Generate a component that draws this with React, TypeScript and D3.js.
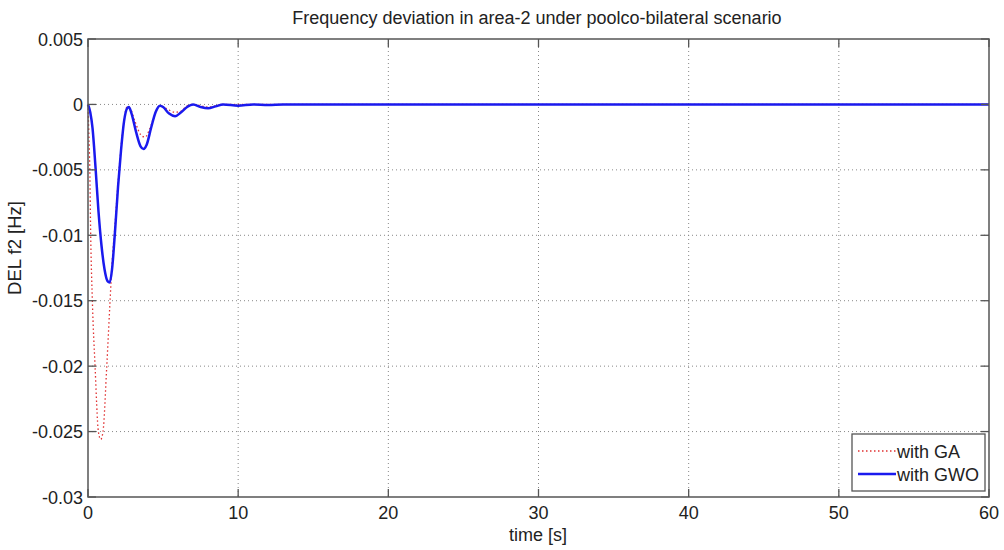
import React from "react";
import * as d3 from "d3";

const xTicks = [0, 10, 20, 30, 40, 50, 60];
const yTicks = [0.005, 0, -0.005, -0.01, -0.015, -0.02, -0.025, -0.03];
const yTickLabels = ["0.005", "0", "-0.005", "-0.01", "-0.015", "-0.02", "-0.025", "-0.03"];

const gaTime = [0, 0.05, 0.12, 0.18, 0.29, 0.47, 0.69, 0.85, 1.0, 1.25, 1.47, 1.6, 1.8, 2.0, 2.2, 2.4, 2.6, 2.8, 3.1, 3.5, 3.8, 4.1, 4.5, 4.8, 5.2, 5.8, 6.2, 6.6, 7.0, 8.0, 9.0, 60];
const gaValues = [0, -0.002, -0.005, -0.01, -0.015, -0.02, -0.025, -0.0256, -0.025, -0.02, -0.015, -0.0122, -0.0092, -0.006, -0.0033, -0.0012, -0.0002, -0.0003, -0.0012, -0.0023, -0.0025, -0.0019, -0.0006, -0.0001, -0.0003, -0.0006, -0.0005, -0.0001, 0, -0.0002, 0, 0];

const gwoTime = [0, 0.15, 0.3, 0.5, 0.7, 0.9, 1.1, 1.3, 1.45, 1.6, 1.8, 2.0, 2.2, 2.4, 2.6, 2.72, 2.9, 3.2, 3.5, 3.7, 3.9, 4.2, 4.5, 4.8, 5.0, 5.4, 5.8, 6.2, 6.6, 7.0, 7.5, 8.0, 8.5, 9.0, 10, 11, 12, 13, 60];
const gwoValues = [0, -0.0006, -0.0018, -0.0048, -0.0082, -0.0108, -0.0126, -0.0135, -0.0136, -0.0126, -0.0097, -0.0063, -0.0035, -0.0013, -0.0003, -0.0002, -0.0007, -0.0021, -0.0032, -0.0034, -0.0031, -0.0018, -0.0006, -0.0001, -0.0002, -0.0007, -0.0009, -0.0006, -0.0002, 0, -0.0002, -0.0003, -0.00015, 0, -0.0001, 0, -0.00005, 0, 0];

const left = 88, right = 989, top = 39, bottom = 497;

export default function App() {
  const x = d3.scaleLinear().domain([0, 60]).range([left, right]);
  const y = d3.scaleLinear().domain([-0.03, 0.005]).range([bottom, top]);
  const line = d3
    .line<[number, number]>()
    .x((d) => x(d[0]))
    .y((d) => y(d[1]))
    .curve(d3.curveMonotoneX);
  const gaPath = line(gaTime.map((t, i) => [t, gaValues[i]]) as [number, number][]) || "";
  const gwoPath = line(gwoTime.map((t, i) => [t, gwoValues[i]]) as [number, number][]) || "";
  const axisColor = "#555";
  const font = "Arial, 'Liberation Sans', sans-serif";

  return (
    <svg width={1004} height={550} style={{ position: "absolute", left: 0, top: 0, background: "#fff" }} fontFamily={font}>
      <rect x={0} y={0} width={1004} height={550} fill="#fff" />
      <text x={537} y={24} textAnchor="middle" fontSize={18} fill="#222">
        Frequency deviation in area-2 under poolco-bilateral scenario
      </text>
      {/* grid */}
      {xTicks.slice(1, -1).map((t) => (
        <line key={"gx" + t} x1={x(t)} x2={x(t)} y1={top} y2={bottom} stroke="#888" strokeWidth={1} strokeDasharray="1,3" />
      ))}
      {yTicks.slice(1, -1).map((t) => (
        <line key={"gy" + t} x1={left} x2={right} y1={y(t)} y2={y(t)} stroke="#888" strokeWidth={1} strokeDasharray="1,3" />
      ))}
      {/* lines */}
      <path d={gaPath} fill="none" stroke="#e03030" strokeWidth={1.3} strokeDasharray="1.5,2.5" />
      <path d={gwoPath} fill="none" stroke="#1a1aee" strokeWidth={2.5} />
      {/* axes box */}
      <rect x={left} y={top} width={right - left} height={bottom - top} fill="none" stroke={axisColor} strokeWidth={1.5} />
      {xTicks.map((t) => (
        <g key={"xt" + t}>
          <line x1={x(t)} x2={x(t)} y1={bottom} y2={bottom - 8} stroke={axisColor} strokeWidth={1.3} />
          <line x1={x(t)} x2={x(t)} y1={top} y2={top + 8} stroke={axisColor} strokeWidth={1.3} />
          <text x={x(t)} y={519} textAnchor="middle" fontSize={18} fill="#222">
            {t}
          </text>
        </g>
      ))}
      {yTicks.map((t, i) => (
        <g key={"yt" + t}>
          <line x1={left} x2={left + 8} y1={y(t)} y2={y(t)} stroke={axisColor} strokeWidth={1.3} />
          <line x1={right} x2={right - 8} y1={y(t)} y2={y(t)} stroke={axisColor} strokeWidth={1.3} />
          <text x={83} y={y(t) + 6.5} textAnchor="end" fontSize={18} fill="#222">
            {yTickLabels[i]}
          </text>
        </g>
      ))}
      <text x={538} y={541} textAnchor="middle" fontSize={18} fill="#222">
        time [s]
      </text>
      <text transform="translate(21,248) rotate(-90)" textAnchor="middle" fontSize={18.5} fill="#222">
        DEL f2 [Hz]
      </text>
      {/* legend */}
      <rect x={852} y={434} width={133} height={57} fill="#fff" stroke={axisColor} strokeWidth={1.3} />
      <line x1={858} x2={896} y1={451} y2={451} stroke="#e03030" strokeWidth={1.3} strokeDasharray="1.5,2.5" />
      <text x={897} y={457.5} fontSize={18} fill="#222">with GA</text>
      <line x1={858} x2={896} y1={474} y2={474} stroke="#1a1aee" strokeWidth={2.5} />
      <text x={897} y={480.5} fontSize={18} fill="#222">with GWO</text>
    </svg>
  );
}
